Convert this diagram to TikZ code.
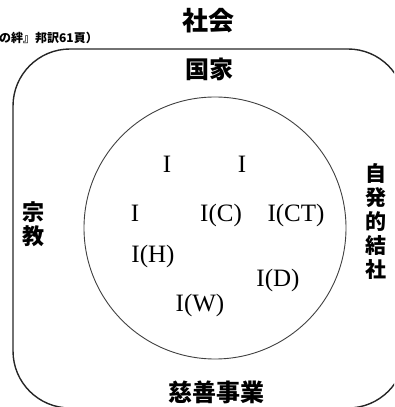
\documentclass[tikz,border=0pt]{standalone}
\usepackage{fontspec}
\setmainfont{Liberation Serif}
\newfontfamily\jpfont{Noto Sans CJK JP}
\begin{document}
\begin{tikzpicture}[x=1pt,y=1pt,
  jp/.style={font=\jpfont\bfseries\fontsize{#1}{#1}\selectfont, inner sep=0pt},
  vjp/.style={font=\jpfont\bfseries\fontsize{#1}{24}\selectfont, inner sep=0pt, align=center},
  ilab/.style={font=\fontsize{25}{25}\selectfont, inner sep=0pt, anchor=base}]
\useasboundingbox (0,0) rectangle (394,407);
\clip (0,0) rectangle (394,407);
% outer rounded region (society)
\draw[line width=1.4pt, draw=black!85, rounded corners=57pt] (13,-1) rectangle (405,358);
% inner circle (individuals)
\node[circle, draw=black!75, line width=0.9pt, minimum size=262pt, inner sep=0pt] (circ) at (215,179) {};
% titles
\node[jp=26] (shakai) at (208,386) {社会};
\node[font=\jpfont\bfseries\fontsize{12}{12}\selectfont, inner sep=0pt, anchor=east] (src) at (98,369) {の絆』邦訳61頁）};
\node[jp=24] (kokka) at (209,338) {国家};
\node[vjp=22] (shukyo) at (34,183) {宗\\教};
\node[vjp=21] (kessha) at (376,185) {自\\発\\的\\結\\社};
\node[jp=24] (jizen) at (216,15) {慈善事業};
% individuals
\node[ilab] (i1) at (167,234) {I};
\node[ilab] (i2) at (242,234) {I};
\node[ilab] (i3) at (135,185) {I};
\node[ilab] (ic) at (221,185) {I(C)};
\node[ilab] (ict) at (296,185) {I(CT)};
\node[ilab] (ih) at (153,144) {I(H)};
\node[ilab] (id) at (278,120) {I(D)};
\node[ilab] (iw) at (200,95) {I(W)};
\end{tikzpicture}
\end{document}
